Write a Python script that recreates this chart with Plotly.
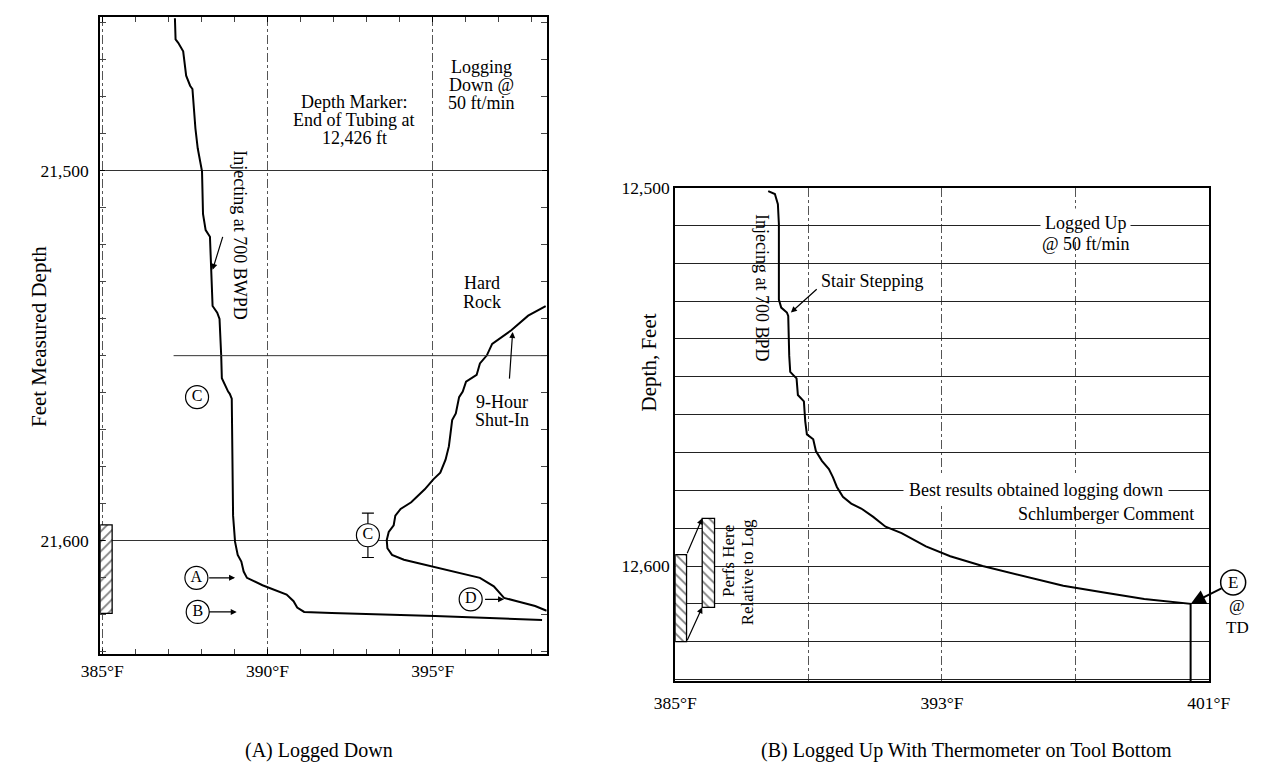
import plotly.graph_objects as go

# ---------------- Panel A: Logged Down ----------------
inj_down_temp = [387.20, 387.22, 387.30, 387.45, 387.54, 387.66, 387.73, 387.82, 387.89, 387.97,
                 388.02, 388.05, 388.13, 388.26, 388.30, 388.34, 388.48, 388.55, 388.60, 388.62,
                 388.81, 388.86, 388.92, 388.94, 388.96, 389.02, 389.07, 389.10, 389.21, 389.28,
                 389.38, 389.85, 390.58, 390.79, 390.90, 391.11, 391.94, 395.07, 398.31]
inj_down_depth = [21458.9, 21464.6, 21465.5, 21467.8, 21474.4, 21477.1, 21478.0, 21488.6, 21494.0, 21497.5,
                  21500.2, 21511.7, 21516.1, 21517.9, 21527.7, 21536.6, 21538.4, 21540.1, 21549.9, 21556.1,
                  21559.7, 21560.3, 21561.6, 21575.4, 21593.2, 21600.3, 21602.0, 21603.8, 21605.6, 21608.3,
                  21610.0, 21612.0, 21614.5, 21616.3, 21618.0, 21619.2, 21619.5, 21620.3, 21621.4]

shutin_temp = [398.42, 397.89, 397.37, 396.80, 396.64, 396.43, 396.33, 396.01, 395.91, 395.80,
               395.70, 395.59, 395.54, 395.49, 395.39, 395.23, 395.02, 394.76, 394.35, 394.03,
               393.87, 393.82, 393.67, 393.61, 393.63, 393.77, 394.13, 394.97, 395.70, 396.43,
               396.85, 397.16, 397.58, 398.10, 398.45]
shutin_depth = [21536.6, 21539.2, 21543.2, 21546.8, 21549.9, 21552.1, 21555.2, 21557.0, 21559.7, 21561.2,
                21565.6, 21567.4, 21571.0, 21574.5, 21578.1, 21581.6, 21583.4, 21586.1, 21589.6, 21591.4,
                21593.2, 21595.8, 21597.6, 21599.8, 21602.0, 21603.8, 21605.1, 21606.9, 21608.3, 21610.0,
                21612.3, 21615.4, 21616.4, 21617.6, 21618.9]

a_xrange = [384.94, 398.45]
a_yrange = [21630.6, 21458.6]
a_xticks = [385, 390, 395]
a_xticktext = ["385°F", "390°F", "395°F"]
a_yticks = [21500, 21600]
a_yticktext = ["21,500", "21,600"]
a_partial_grid_depth = [21550, 21550]
a_partial_grid_temp = [387.16, 398.45]
a_perf_temp = [384.94, 385.30]
a_perf_depth = [21595.7, 21619.6]

# circled markers (label, temp, depth)
a_circle_labels = ["C", "A", "B", "D"]
a_circle_temp = [387.87, 387.85, 387.89, 396.15]
a_circle_depth = [21561.2, 21610.0, 21619.2, 21615.8]
a_errc_temp = [393.04]
a_errc_depth = [21598.5]
a_errc_half = [6.0]

# ---------------- Panel B: Logged Up ----------------
up_temp = [387.79, 387.99, 388.08, 388.11, 388.11, 388.18, 388.35, 388.39, 388.42, 388.45,
           388.55, 388.64, 388.68, 388.86, 388.90, 388.95, 389.14, 389.22, 389.40, 389.61,
           389.73, 389.85, 390.03, 390.28, 390.58, 390.94, 391.31, 391.79, 392.52, 393.25,
           394.22, 395.43, 396.64, 397.86, 399.07, 400.46, 400.46]
up_depth = [12500.9, 12501.7, 12504.4, 12509.6, 12529.6, 12531.7, 12533.0, 12533.9, 12544.4, 12548.7,
            12549.6, 12550.4, 12554.8, 12556.5, 12561.7, 12565.2, 12566.5, 12569.6, 12572.2, 12574.4,
            12576.5, 12579.1, 12581.7, 12583.5, 12584.8, 12587.0, 12589.6, 12591.3, 12594.8, 12597.4,
            12600.0, 12602.6, 12605.2, 12607.0, 12608.7, 12610.0, 12630.4]

b_xrange = [385, 401]
b_yrange = [12630.4, 12500]
b_xticks = [385, 389, 393, 397, 401]
b_xticktext = ["385°F", "", "393°F", "", "401°F"]
b_yticks = list(range(12500, 12631, 10))
b_yticktext = ["12,500" if v == 12500 else ("12,600" if v == 12600 else "") for v in b_yticks]
b_perf1_temp = [385.0, 385.34]
b_perf1_depth = [12597.0, 12620.0]
b_perf2_temp = [385.81, 386.18]
b_perf2_depth = [12587.4, 12610.9]
b_td_temp = 400.46
b_td_depth = 12610.0

W, H = 1277, 762
FONT = "Liberation Serif"
TXT = 18

fig = go.Figure()

line_style = dict(color="black", width=2)

fig.add_trace(go.Scatter(x=inj_down_temp, y=inj_down_depth, mode="lines", line=line_style,
                         xaxis="x", yaxis="y", showlegend=False))
fig.add_trace(go.Scatter(x=shutin_temp, y=shutin_depth, mode="lines", line=line_style,
                         xaxis="x", yaxis="y", showlegend=False))
fig.add_trace(go.Scatter(x=a_partial_grid_temp, y=a_partial_grid_depth, mode="lines",
                         line=dict(color="#333", width=1), xaxis="x", yaxis="y", showlegend=False))


def hatch_bar(trange, drange, shape, xa, ya):
    return go.Bar(x=[(trange[0] + trange[1]) / 2], y=[drange[1] - drange[0]], base=[drange[0]],
                  width=[trange[1] - trange[0]], xaxis=xa, yaxis=ya, showlegend=False,
                  marker=dict(color="white", line=dict(color="black", width=1.3),
                              pattern=dict(shape=shape, fgcolor="black", bgcolor="white",
                                           size=7, solidity=0.25, fillmode="overlay")))


fig.add_trace(hatch_bar(a_perf_temp, a_perf_depth, "/", "x", "y"))

# error bar circle C
fig.add_trace(go.Scatter(x=a_errc_temp, y=a_errc_depth, mode="markers+text", text=["C"],
                         textposition="middle center",
                         textfont=dict(family=FONT, size=16, color="black"),
                         marker=dict(symbol="circle", size=23, color="white",
                                     line=dict(color="black", width=1.2)),
                         error_y=dict(type="data", array=a_errc_half, color="black",
                                      thickness=1.2, width=6),
                         xaxis="x", yaxis="y", showlegend=False))
fig.add_trace(go.Scatter(x=a_circle_temp, y=a_circle_depth, mode="markers+text", text=a_circle_labels,
                         textposition="middle center",
                         textfont=dict(family=FONT, size=16, color="black"),
                         marker=dict(symbol="circle", size=23, color="white",
                                     line=dict(color="black", width=1.2)),
                         xaxis="x", yaxis="y", showlegend=False))

# Panel B traces
fig.add_trace(go.Scatter(x=up_temp, y=up_depth, mode="lines", line=line_style,
                         xaxis="x2", yaxis="y2", showlegend=False))
fig.add_trace(hatch_bar(b_perf1_temp, b_perf1_depth, "\\", "x2", "y2"))
fig.add_trace(hatch_bar(b_perf2_temp, b_perf2_depth, "\\", "x2", "y2"))

tickfont = dict(family=FONT, size=17.5, color="black")

# E circle (outside the plot area, in axis-domain units)
E_X, E_Y = 1.046, 0.20

fig.update_layout(
    width=W, height=H, margin=dict(l=0, r=0, t=0, b=0),
    paper_bgcolor="white", plot_bgcolor="white", barmode="overlay",
    font=dict(family=FONT, size=TXT, color="black"),
    xaxis=dict(domain=[82 / W, 544 / W], range=a_xrange, tickmode="array", tickvals=a_xticks,
               ticktext=a_xticktext, showline=True, linecolor="black", linewidth=2, mirror="allticks",
               ticks="inside", ticklen=5, tickcolor="black", showgrid=True, gridcolor="#555",
               griddash="dashdot", gridwidth=1, zeroline=False, tickfont=tickfont,
               minor=dict(tick0=385, dtick=1, ticks="inside", ticklen=5, tickcolor="#444", showgrid=False),
               anchor="y"),
    yaxis=dict(domain=[1 - 652.7 / H, 1 - 7.3 / H], range=a_yrange, tickmode="array", tickvals=a_yticks,
               ticktext=a_yticktext, showline=True, linecolor="black", linewidth=2, mirror="allticks",
               ticks="inside", ticklen=5, tickcolor="black", showgrid=True, gridcolor="#333",
               gridwidth=1, zeroline=False, tickfont=tickfont, ticklabelstandoff=6,
               minor=dict(tick0=21500, dtick=10, ticks="inside", ticklen=6, tickcolor="#444", showgrid=False),
               anchor="x"),
    xaxis2=dict(domain=[677 / W, 1229 / W], range=b_xrange, tickmode="array", tickvals=b_xticks,
                ticktext=b_xticktext, showline=True, linecolor="black", linewidth=2, mirror=True,
                ticks="", showgrid=True, gridcolor="#555", griddash="dashdot", gridwidth=1,
                zeroline=False, tickfont=tickfont, ticklabelstandoff=5, anchor="y2"),
    yaxis2=dict(domain=[1 - 680 / H, 1 - 180 / H], range=b_yrange, tickmode="array", tickvals=b_yticks,
                ticktext=b_yticktext, showline=True, linecolor="black", linewidth=2, mirror=True,
                ticks="", showgrid=True, gridcolor="#222", gridwidth=1.3, zeroline=False,
                tickfont=tickfont, anchor="x2"),
    shapes=[dict(type="circle", xref="x2 domain", yref="y2 domain", xsizemode="pixel", ysizemode="pixel",
                 xanchor=E_X, yanchor=E_Y, x0=-12.5, x1=12.5, y0=-12.5, y1=12.5,
                 line=dict(color="black", width=1.5), fillcolor="white", layer="above")],
)

ann = []


def text(x, y, s, xref="x", yref="y", size=TXT, angle=0, bg=None, pad=1):
    d = dict(x=x, y=y, xref=xref, yref=yref, text=s, showarrow=False, textangle=angle,
             xanchor="center", yanchor="middle", borderpad=pad,
             font=dict(family=FONT, size=size, color="black"))
    if bg:
        d["bgcolor"] = bg
    ann.append(d)


def arrow(x0, y0, x1, y1, xref="x", yref="y", head=2, size=1, width=1.2, standoff=0, startstandoff=0):
    ann.append(dict(x=x1, y=y1, ax=x0, ay=y0, xref=xref, yref=yref, axref=xref, ayref=yref,
                    text="", showarrow=True, arrowhead=head, arrowsize=size, arrowwidth=width,
                    arrowcolor="black", standoff=standoff, startstandoff=startstandoff))


# Panel A texts (one annotation per printed line)
text(392.62, 21481.5, "Depth Marker:")
text(392.62, 21486.4, "End of Tubing at")
text(392.62, 21491.3, "12,426 ft")
text(396.49, 21472.0, "Logging")
text(396.49, 21476.9, "Down @")
text(396.49, 21481.8, "50 ft/min")
text(389.18, 21517.3, "Injecting at 700 BWPD", angle=90)
text(396.49, 21530.4, "Hard")
text(396.49, 21535.5, "Rock")
text(397.11, 21562.5, "9-Hour")
text(397.11, 21567.4, "Shut-In")
arrow(388.66, 21517.5, 388.34, 21526.8)
arrow(397.32, 21556.6, 397.42, 21543.6)
arrow(388.19, 21610.0, 389.02, 21610.0)
arrow(388.19, 21619.2, 389.07, 21619.2)
arrow(396.54, 21615.8, 397.16, 21615.8)

# Panel B texts
text(387.6, 12526.5, "Injecing at 700 BPD", xref="x2", yref="y2", angle=90)
text(390.93, 12524.8, "Stair Stepping", xref="x2", yref="y2")
arrow(389.29, 12526.5, 388.47, 12533.0, xref="x2", yref="y2")
text(397.31, 12509.4, "Logged Up", xref="x2", yref="y2", bg="white", pad=4)
text(397.31, 12514.8, "@ 50 ft/min", xref="x2", yref="y2")
text(395.81, 12580.0, "Best results obtained logging down", xref="x2", yref="y2", bg="white", pad=5)
text(397.92, 12586.3, "Schlumberger Comment", xref="x2", yref="y2")
text(386.58, 12598.7, "Perfs Here", xref="x2", yref="y2", angle=-90, size=17)
text(387.18, 12601.7, "Relative to Log", xref="x2", yref="y2", angle=-90, size=17)
arrow(385.34, 12597.0, 385.81, 12587.4, xref="x2", yref="y2")
arrow(385.34, 12620.0, 385.81, 12610.9, xref="x2", yref="y2")
# E arrow: head on the curve end, tail at the E circle (pixel offset)
ann.append(dict(x=b_td_temp, y=b_td_depth, xref="x2", yref="y2", ax=44, ay=-22, text="",
                showarrow=True, arrowhead=2, arrowsize=1.5, arrowwidth=2, arrowcolor="black",
                startstandoff=13))
text(E_X, E_Y, "E", xref="x2 domain", yref="y2 domain", size=17)
text(1.0536, 0.154, "@", xref="x2 domain", yref="y2 domain", size=17)
text(1.0536, 0.108, "TD", xref="x2 domain", yref="y2 domain", size=17)

# titles and captions (paper coordinates)
text(18 / W, 1 - 331 / H, "Feet Measured Depth", xref="paper", yref="paper", size=21, angle=-90)
text(650 / W, 1 - 357 / H, "Depth, Feet", xref="paper", yref="paper", size=21, angle=-90)
text(308 / W, 1 - 750 / H, "(A) Logged Down", xref="paper", yref="paper", size=20)
text(978 / W, 1 - 750 / H, "(B) Logged Up With Thermometer on Tool Bottom", xref="paper", yref="paper", size=20)

fig.update_layout(annotations=ann)
fig.write_html("out.html", config={"displayModeBar": False},
               post_script="document.body.style.margin='0';document.body.style.overflow='hidden';")
